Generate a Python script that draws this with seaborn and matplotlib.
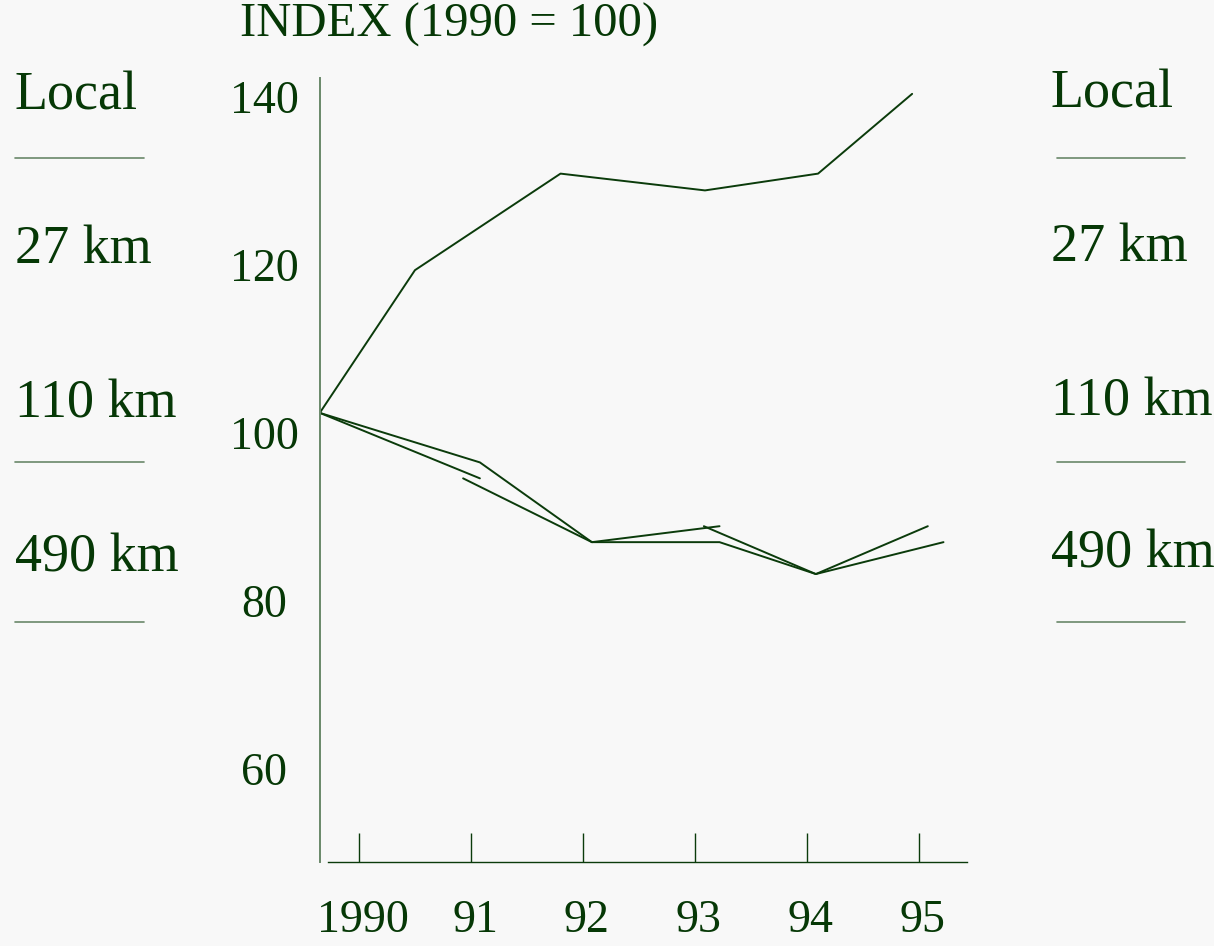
import pandas as pd
import matplotlib.pyplot as plt
import matplotlib.transforms as mtransforms
import seaborn as sns

# Values (x in fractional years, y in index points)
local_years = [1989.65, 1990.50, 1991.80, 1993.09, 1994.10, 1994.94]
local_index = [102.4, 119.4, 130.9, 128.9, 130.9, 140.4]

km110_years = [1989.65, 1991.08, 1992.08, 1993.22, 1994.08, 1995.22]
km110_index = [102.4, 96.5, 87.0, 87.0, 83.2, 87.0]

# this one is drawn in three overlapping strokes
km490_years = [1989.65, 1991.08, 1990.93, 1992.08, 1993.22, 1993.08, 1994.08, 1995.08]
km490_index = [102.4, 94.6, 94.6, 87.0, 88.9, 88.9, 83.2, 88.9]
km490_stroke = [0, 0, 1, 1, 1, 2, 2, 2]

year_ticks = [1990, 1991, 1992, 1993, 1994, 1995]
year_labels = ["1990", "91", "92", "93", "94", "95"]
index_ticks = [60, 80, 100, 120, 140]
index_labels = ["60", "80", "100", "120", "140"]
side_labels = ["Local", "27 km", "110 km", "490 km"]

# Build a long table
rows = []
for x, y in zip(local_years, local_index):
    rows.append(("local", 0, x, y))
for x, y in zip(km110_years, km110_index):
    rows.append(("110", 0, x, y))
for x, y, s in zip(km490_years, km490_index, km490_stroke):
    rows.append(("490", s, x, y))
df = pd.DataFrame(rows, columns=["series", "stroke", "year", "index"])
df["unit"] = df["series"] + "_" + df["stroke"].astype(str)

sns.set_theme(style="white")
plt.rcParams["font.family"] = ["Liberation Serif", "DejaVu Serif"]

bg = "#f8f8f8"
ink = "#063806"
line_col = "#0b3b0b"
axis_col = "#6a886a"

W, H = 1214, 946
fig = plt.figure(figsize=(W / 100, H / 100), dpi=100, facecolor=bg)
ax = fig.add_axes([320 / W, 1 - 862 / H, (967 - 320) / W, (862 - 78) / H])
ax.set_facecolor(bg)

sns.lineplot(data=df, x="year", y="index", units="unit", estimator=None,
             sort=False, color=line_col, linewidth=1.4, ax=ax, legend=False)

ax.set_xlim(1989.652, 1995.43)
ax.set_ylim(48.9, 142.29)

for side in ["top", "right"]:
    ax.spines[side].set_visible(False)
ax.spines["left"].set_color(axis_col)
ax.spines["left"].set_linewidth(1.4)
ax.spines["bottom"].set_color(line_col)
ax.spines["bottom"].set_linewidth(1.0)
ax.spines["bottom"].set_bounds(1989.72, 1995.43)

ax.set_xticks(year_ticks)
ax.set_xticklabels(year_labels)
ax.tick_params(axis="x", direction="in", length=21, width=1.0, color=line_col,
               pad=27, labelsize=33, labelcolor=ink, bottom=True)
shift = mtransforms.ScaledTranslation(4 / 100, 0, fig.dpi_scale_trans)
for lab in ax.get_xticklabels():
    lab.set_transform(lab.get_transform() + shift)
ax.set_yticks(index_ticks)
ax.set_yticklabels(index_labels, ha="center")
ax.tick_params(axis="y", length=0, pad=40, labelsize=33, labelcolor=ink)
ax.set_xlabel("")
ax.set_ylabel("")

# Title
fig.text(240 / W, 1 - 37 / H, "INDEX (1990 = 100)", fontsize=35, color=ink,
         ha="left", va="baseline")

# Side labels, both sides
left_base = [110, 263, 417, 571]
right_base = [107, 261, 415, 567]
for lab, yl, yr in zip(side_labels, left_base, right_base):
    fig.text(15 / W, 1 - yl / H, lab, fontsize=39, color=ink, ha="left", va="baseline")
    fig.text(1051 / W, 1 - yr / H, lab, fontsize=39, color=ink, ha="left", va="baseline")

for yy in [158, 462, 622]:
    fig.add_artist(plt.Line2D([15 / W, 144 / W], [1 - yy / H] * 2, color=axis_col, lw=1.2))
    fig.add_artist(plt.Line2D([1057 / W, 1185 / W], [1 - yy / H] * 2, color=axis_col, lw=1.2))

fig.savefig("out.png", dpi=100, facecolor=bg)
